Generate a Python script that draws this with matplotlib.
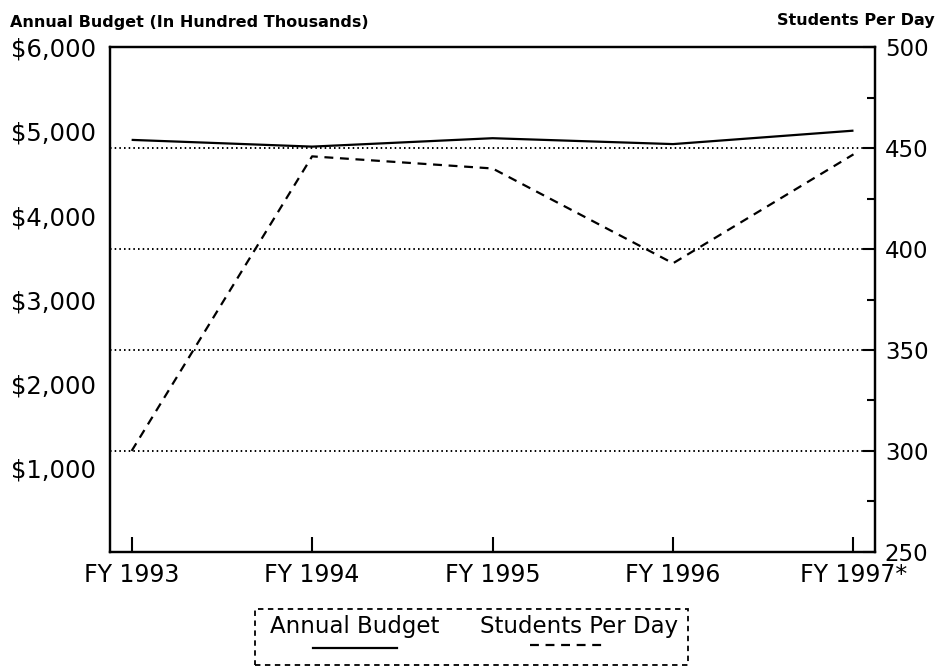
import matplotlib
matplotlib.use('Agg')
import matplotlib.pyplot as plt
from matplotlib.patches import Rectangle
from matplotlib.lines import Line2D
from matplotlib.ticker import MultipleLocator

years = ['FY 1993', 'FY 1994', 'FY 1995', 'FY 1996', 'FY 1997*']
budget = [4900, 4820, 4920, 4850, 5010]      # hundred thousands
students = [300, 446, 440, 393, 447]        # students per day

budget_ticks = [1000, 2000, 3000, 4000, 5000, 6000]
budget_labels = ['$1,000', '$2,000', '$3,000', '$4,000', '$5,000', '$6,000']
student_ticks = [250, 300, 350, 400, 450, 500]

plt.rcParams['font.family'] = 'DejaVu Sans'

fig = plt.figure(figsize=(9.4, 6.68), dpi=100)
ax = fig.add_axes([0.117, 0.174, 0.814, 0.755])
ax2 = ax.twinx()

x = list(range(len(years)))
ax.plot(x, budget, color='black', lw=1.6, solid_capstyle='butt')
ax2.plot(x, students, color='black', lw=1.6, dashes=(4, 3))

ax.set_xlim(-0.12, 4.12)
ax.set_ylim(0, 6000)
ax2.set_ylim(250, 500)

ax.set_xticks(x)
ax.set_xticklabels(years, fontsize=17)
ax.tick_params(axis='x', direction='in', length=11, width=1.5, pad=8)
ax.set_yticks(budget_ticks)
ax.set_yticklabels(budget_labels, fontsize=17.5)
ax.tick_params(axis='y', length=0, pad=10)

ax2.set_yticks(student_ticks)
ax2.yaxis.set_minor_locator(MultipleLocator(25))
ax2.tick_params(axis='y', which='major', direction='in', length=9, width=1.5,
                labelsize=16.5, pad=7)
ax2.tick_params(axis='y', which='minor', direction='in', length=6, width=1.5)
ax2.yaxis.grid(True, which='major', color='black', lw=1.4, linestyle=(0, (0.8, 1.6)))

for a in (ax, ax2):
    for s in a.spines.values():
        s.set_linewidth(1.6)

fig.text(0.011, 0.967, 'Annual Budget (In Hundred Thousands)', fontsize=11.5,
         fontweight='bold', va='center', ha='left')
fig.text(0.994, 0.970, 'Students Per Day', fontsize=11.5, fontweight='bold',
         va='center', ha='right')

# legend box drawn by hand: label on top, line sample underneath
W, H = 940, 668
fig.patches.append(Rectangle((255 / W, 1 - 665 / H), (688 - 255) / W, (665 - 609) / H,
                             transform=fig.transFigure, fill=False, lw=1.3,
                             edgecolor='black', linestyle=(0, (3, 2.5))))
fig.text(270 / W, 1 - 627 / H, 'Annual Budget', fontsize=16.5, va='center', ha='left')
fig.text(678 / W, 1 - 627 / H, 'Students Per Day', fontsize=16.5, va='center', ha='right')
fig.lines.append(Line2D([313 / W, 397 / W], [1 - 648 / H] * 2, transform=fig.transFigure,
                        color='black', lw=1.6))
fig.lines.append(Line2D([530 / W, 607 / W], [1 - 645 / H] * 2, transform=fig.transFigure,
                        color='black', lw=1.6, dashes=(4, 3)))

fig.savefig('out.png', dpi=100)
